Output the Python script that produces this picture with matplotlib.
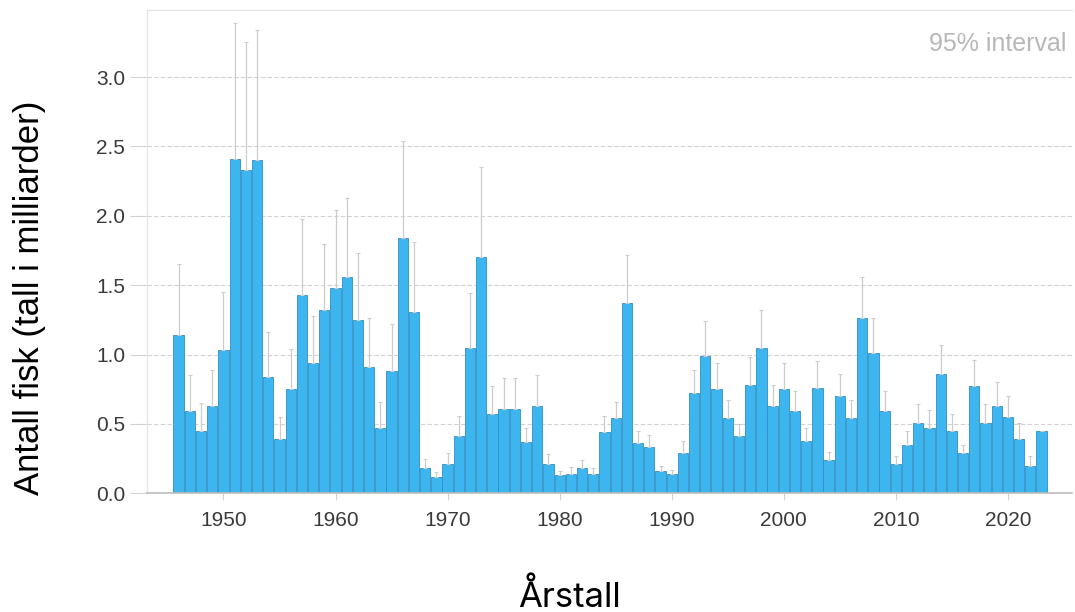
import numpy as np
import matplotlib
matplotlib.use("Agg")
import matplotlib.pyplot as plt

plt.rcParams["font.family"] = ["Liberation Sans", "DejaVu Sans"]

# aarstall og estimat (milliarder fisk), lest av figuren
years = list(range(1946, 2024))
values = [1.14, 0.59, 0.45, 0.63, 1.03, 2.41, 2.33, 2.40, 0.84, 0.39,
          0.75, 1.43, 0.94, 1.32, 1.48, 1.56, 1.25, 0.91, 0.47, 0.88,
          1.84, 1.31, 0.18, 0.115, 0.21, 0.41, 1.05, 1.70, 0.57, 0.61,
          0.61, 0.37, 0.63, 0.21, 0.13, 0.14, 0.18, 0.14, 0.44, 0.54,
          1.37, 0.36, 0.33, 0.16, 0.14, 0.29, 0.72, 0.99, 0.75, 0.54,
          0.41, 0.78, 1.05, 0.63, 0.75, 0.59, 0.375, 0.76, 0.24, 0.70,
          0.54, 1.26, 1.01, 0.59, 0.21, 0.35, 0.51, 0.47, 0.86, 0.45,
          0.29, 0.77, 0.51, 0.63, 0.55, 0.39, 0.195, 0.45]
# ovre grense for 95% intervall
upper = [1.65, 0.85, 0.65, 0.89, 1.45, 3.39, 3.25, 3.34, 1.16, 0.55,
         1.04, 1.98, 1.28, 1.80, 2.04, 2.13, 1.73, 1.26, 0.66, 1.22,
         2.54, 1.81, 0.25, 0.15, 0.29, 0.56, 1.44, 2.35, 0.77, 0.83,
         0.83, 0.47, 0.85, 0.28, 0.16, 0.19, 0.24, 0.18, 0.56, 0.66,
         1.72, 0.45, 0.42, 0.20, 0.17, 0.38, 0.89, 1.24, 0.94, 0.67,
         0.50, 0.98, 1.32, 0.78, 0.94, 0.74, 0.47, 0.95, 0.30, 0.86,
         0.67, 1.56, 1.26, 0.74, 0.27, 0.45, 0.64, 0.60, 1.07, 0.57,
         0.35, 0.96, 0.64, 0.80, 0.70, 0.51, 0.27, 0.45]
yticks = [0.0, 0.5, 1.0, 1.5, 2.0, 2.5, 3.0]
xticks = [1950, 1960, 1970, 1980, 1990, 2000, 2010, 2020]

fig = plt.figure(figsize=(10.75, 6.12), dpi=100)
ax = fig.add_axes([0.137, 0.194, 0.860, 0.789])

v = np.array(values)
up = np.array(upper)
yerr = [np.zeros_like(v), up - v]

ax.bar(years, values, width=0.92, color="#3db5ee", edgecolor="#2f8fc6",
       linewidth=0.6, zorder=2)
ax.errorbar(years, values, yerr=yerr, fmt="none", ecolor="#cccccc",
            elinewidth=0.9, capsize=1.5, capthick=0.8, zorder=3)

ax.set_xlim(1943.2, 2025.7)
ax.set_ylim(0, 3.48)
ax.set_yticks(yticks)
ax.set_yticklabels(["%.1f" % t for t in yticks])
ax.set_xticks(xticks)

ax.yaxis.grid(True, linestyle=(0, (4, 2)), color="#d2d2d2", linewidth=0.8, zorder=0)
ax.set_axisbelow(True)

for s in ["top", "left"]:
    ax.spines[s].set_color("#e6e6e6")
    ax.spines[s].set_linewidth(1.0)
ax.spines["right"].set_visible(False)
ax.spines["bottom"].set_color("#bdbdbd")
ax.spines["bottom"].set_linewidth(1.2)

ax.tick_params(axis="y", length=12, width=0.8, color="#d2d2d2", pad=4,
               labelsize=15, labelcolor="#3a3a3a")
ax.tick_params(axis="x", length=5, width=0.8, color="#d2d2d2", pad=8,
               labelsize=15, labelcolor="#3a3a3a")

fig.text(30 / 1075, 1 - 298 / 612, "Antall fisk (tall i milliarder)",
         fontsize=25, color="black", rotation=90, ha="center", va="center")
fig.text(0.53, 0.008, "Årstall", fontsize=25, family=["Inter", "DejaVu Sans"],
         color="black", ha="center", va="baseline")

ax.text(0.994, 0.93, "95% interval", transform=ax.transAxes, ha="right",
        va="center", fontsize=18, color="#b8b8b8")

fig.savefig("out.png", dpi=100)
